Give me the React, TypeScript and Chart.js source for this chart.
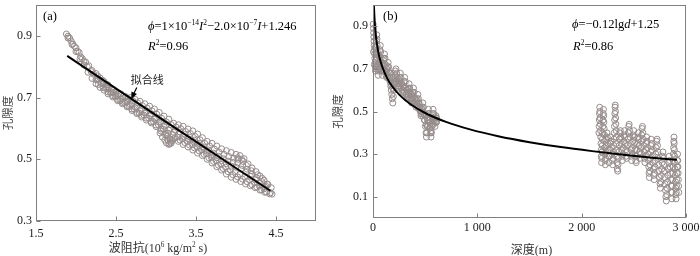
import React, { useEffect, useRef } from "react";
import { Chart, registerables } from "chart.js";
Chart.register(...registerables);

// ---------------- Panel (a): impedance vs porosity ----------------
const upperImp = [1.88, 1.92, 1.96, 2.0, 2.04, 2.08, 2.12, 2.16, 2.2, 2.25, 2.3, 2.35, 2.4, 2.45, 2.5, 2.56, 2.62, 2.68, 2.74, 2.8, 2.86, 2.92, 2.98, 3.04, 3.1, 3.16, 3.22, 3.28, 3.34, 3.4, 3.46, 3.52, 3.58, 3.64, 3.7, 3.76, 3.82, 3.88, 3.94, 4.0, 4.05, 4.1, 4.15, 4.2, 4.25, 4.3, 4.35, 4.4, 4.44];
const upperPor = [0.906, 0.893, 0.874, 0.861, 0.846, 0.826, 0.815, 0.803, 0.788, 0.778, 0.764, 0.752, 0.741, 0.728, 0.717, 0.712, 0.703, 0.7, 0.694, 0.688, 0.68, 0.672, 0.663, 0.652, 0.64, 0.63, 0.617, 0.612, 0.607, 0.598, 0.592, 0.582, 0.57, 0.558, 0.552, 0.543, 0.534, 0.528, 0.522, 0.516, 0.512, 0.502, 0.485, 0.472, 0.46, 0.446, 0.432, 0.418, 0.408];
const band1Imp = [1.9, 1.94, 1.98, 2.02, 2.06, 2.1, 2.14, 2.19, 2.27, 2.33, 2.39, 2.47, 2.53, 2.59, 2.65, 2.71, 2.77, 2.83, 2.89, 2.95, 3.01, 3.07, 3.13, 3.19, 3.25, 3.31, 3.37, 3.43, 3.49, 3.55, 3.61, 3.67, 3.73, 3.79, 3.85, 3.91, 3.97, 4.03, 4.09, 4.13, 4.19, 4.27, 4.33, 4.39];
const band1Por = [0.899, 0.883, 0.866, 0.85, 0.832, 0.818, 0.8, 0.784, 0.77, 0.756, 0.742, 0.725, 0.712, 0.704, 0.697, 0.69, 0.683, 0.674, 0.666, 0.657, 0.646, 0.633, 0.621, 0.612, 0.605, 0.599, 0.59, 0.583, 0.574, 0.563, 0.551, 0.543, 0.533, 0.523, 0.516, 0.509, 0.504, 0.5, 0.493, 0.48, 0.463, 0.45, 0.438, 0.42];
const mid1Imp = [2.22, 2.28, 2.34, 2.4, 2.46, 2.52, 2.58, 2.64, 2.7, 2.76, 2.82, 2.88, 2.94, 3.0, 3.06, 3.12, 3.18, 3.24, 3.3, 3.36, 3.42, 3.48, 3.54, 3.6, 3.66, 3.72, 3.78, 3.84, 3.9, 3.96, 4.02, 4.08, 4.14, 4.2, 4.26, 4.32, 4.38];
const mid1Por = [0.776, 0.76, 0.745, 0.73, 0.716, 0.705, 0.697, 0.688, 0.68, 0.671, 0.662, 0.655, 0.646, 0.635, 0.622, 0.61, 0.6, 0.594, 0.588, 0.58, 0.572, 0.562, 0.552, 0.54, 0.53, 0.52, 0.51, 0.502, 0.494, 0.49, 0.488, 0.48, 0.468, 0.452, 0.44, 0.428, 0.412];
const band2Imp = [2.26, 2.32, 2.38, 2.44, 2.5, 2.56, 2.62, 2.68, 2.74, 2.8, 2.86, 2.92, 2.98, 3.04, 3.1, 3.16, 3.22, 3.28, 3.34, 3.4, 3.46, 3.52, 3.58, 3.64, 3.7, 3.76, 3.82, 3.88, 3.94, 4.0, 4.06, 4.12, 4.18, 4.24, 4.3, 4.36];
const band2Por = [0.76, 0.748, 0.733, 0.719, 0.707, 0.695, 0.687, 0.677, 0.668, 0.658, 0.65, 0.641, 0.63, 0.62, 0.607, 0.594, 0.588, 0.581, 0.574, 0.567, 0.558, 0.549, 0.538, 0.527, 0.515, 0.505, 0.495, 0.486, 0.478, 0.474, 0.468, 0.458, 0.445, 0.434, 0.423, 0.41];
const mid2Imp = [2.25, 2.31, 2.37, 2.43, 2.49, 2.55, 2.61, 2.67, 2.73, 2.79, 2.85, 2.91, 2.97, 3.03, 3.09, 3.15, 3.21, 3.27, 3.33, 3.39, 3.45, 3.51, 3.57, 3.63, 3.69, 3.75, 3.81, 3.87, 3.93, 3.99, 4.05, 4.11, 4.17, 4.23, 4.29, 4.35];
const mid2Por = [0.758, 0.745, 0.73, 0.716, 0.703, 0.69, 0.682, 0.671, 0.662, 0.65, 0.643, 0.633, 0.622, 0.612, 0.598, 0.584, 0.58, 0.572, 0.566, 0.558, 0.548, 0.54, 0.53, 0.518, 0.507, 0.496, 0.484, 0.474, 0.466, 0.46, 0.452, 0.444, 0.434, 0.424, 0.414, 0.404];
const band3Imp = [2.28, 2.34, 2.4, 2.46, 2.52, 2.58, 2.64, 2.7, 2.76, 2.82, 2.88, 2.94, 3.0, 3.06, 3.12, 3.18, 3.24, 3.3, 3.36, 3.42, 3.48, 3.54, 3.6, 3.66, 3.72, 3.78, 3.84, 3.9, 3.96, 4.02, 4.08, 4.14, 4.2, 4.26, 4.32, 4.38, 4.43];
const band3Por = [0.742, 0.732, 0.718, 0.706, 0.694, 0.684, 0.674, 0.663, 0.652, 0.642, 0.633, 0.622, 0.611, 0.598, 0.584, 0.566, 0.57, 0.562, 0.554, 0.546, 0.537, 0.527, 0.516, 0.505, 0.493, 0.481, 0.47, 0.46, 0.45, 0.443, 0.436, 0.427, 0.418, 0.41, 0.401, 0.394, 0.392];
const lowerImp = [1.9, 1.95, 2.0, 2.05, 2.1, 2.15, 2.2, 2.25, 2.3, 2.35, 2.4, 2.46, 2.52, 2.58, 2.64, 2.7, 2.76, 2.82, 2.88, 2.94, 3.0, 3.06, 3.12, 3.15, 3.18, 3.22, 3.28, 3.34, 3.4, 3.46, 3.52, 3.58, 3.64, 3.7, 3.76, 3.82, 3.88, 3.94, 4.0, 4.06, 4.12, 4.18, 4.24, 4.3, 4.36, 4.42, 4.45];
const lowerPor = [0.893, 0.872, 0.849, 0.826, 0.805, 0.782, 0.762, 0.745, 0.733, 0.724, 0.712, 0.702, 0.69, 0.68, 0.67, 0.658, 0.648, 0.637, 0.627, 0.618, 0.606, 0.592, 0.578, 0.562, 0.556, 0.566, 0.558, 0.548, 0.54, 0.53, 0.52, 0.512, 0.5, 0.488, 0.476, 0.465, 0.452, 0.442, 0.435, 0.428, 0.42, 0.414, 0.408, 0.4, 0.393, 0.388, 0.387];
const extraImp = [3.05, 3.08, 3.11, 3.13, 3.16, 3.19, 3.14, 3.17, 3.2, 4.02, 4.07];
const extraPor = [0.585, 0.572, 0.562, 0.553, 0.548, 0.552, 0.575, 0.55, 0.56, 0.505, 0.5];
const fitImpA = [1.89, 3.12, 4.43];
const fitPorA = [0.835, 0.622, 0.398];
const xTicksA = [1.5, 2.5, 3.5, 4.5];
const xTickLabelsA = ["1.5", "2.5", "3.5", "4.5"];
const yTicksA = [0.3, 0.5, 0.7, 0.9];
const yTickLabelsA = ["0.3", "0.5", "0.7", "0.9"];

// ---------------- Panel (b): depth vs porosity ----------------
const depthShallow = [2, 4, 6, 8, 10, 12, 14, 16, 18, 20, 22, 24, 26, 28, 30, 32, 34, 36, 38, 40, 42, 44, 46, 48, 50,
  54, 58, 62, 66, 70, 74, 78, 82, 86, 90,
  95, 100, 105, 110, 115, 120, 125, 130, 135, 140, 145, 150, 155, 160, 165, 170, 175, 180, 185, 190, 195, 200, 205, 210, 215, 220,
  226, 232, 238, 244, 250, 256, 262, 268, 274, 280, 286, 292, 298, 304, 310, 316, 322, 328, 334, 340, 346, 352, 358, 364, 370, 376, 382, 388, 394, 400, 406, 412, 418, 424, 430, 436, 442, 448, 454, 460, 466, 472, 478, 484, 490, 496, 502,
  508, 512, 516, 520, 524, 528, 532, 538, 544, 548, 552, 556, 560, 564, 568, 572, 576, 582, 588, 594, 600, 604, 608, 610];
const porShallow = [0.91, 0.89, 0.87, 0.85, 0.83, 0.81, 0.79, 0.77, 0.75, 0.73, 0.71, 0.69, 0.71, 0.74, 0.77, 0.8, 0.83, 0.86, 0.84, 0.81, 0.78, 0.75, 0.72, 0.69, 0.67,
  0.7, 0.73, 0.76, 0.79, 0.81, 0.78, 0.75, 0.72, 0.69, 0.67,
  0.69, 0.72, 0.75, 0.77, 0.75, 0.72, 0.69, 0.66, 0.68, 0.71, 0.73, 0.71, 0.68, 0.66, 0.64, 0.62, 0.6, 0.58, 0.56, 0.54, 0.57, 0.6, 0.63, 0.66, 0.69, 0.7,
  0.68, 0.66, 0.63, 0.61, 0.63, 0.66, 0.68, 0.66, 0.63, 0.6, 0.59, 0.61, 0.64, 0.66, 0.64, 0.61, 0.58, 0.56, 0.58, 0.61, 0.63, 0.61, 0.58, 0.56, 0.54, 0.56, 0.59, 0.61, 0.59, 0.56, 0.54, 0.52, 0.54, 0.56, 0.58, 0.56, 0.54, 0.52, 0.5, 0.48, 0.5, 0.52, 0.54, 0.52, 0.49, 0.46, 0.43,
  0.4, 0.38, 0.4, 0.43, 0.46, 0.49, 0.51, 0.49, 0.46, 0.43, 0.4, 0.38, 0.4, 0.43, 0.46, 0.49, 0.51, 0.49, 0.46, 0.43, 0.45, 0.48, 0.47, 0.45];
const depthShallow2 = [5, 13, 21, 29, 37, 45, 53, 61, 69, 77, 85, 93, 101, 109, 117, 125, 133, 141, 149, 157,
  165, 173, 181, 189, 197, 205, 213, 221, 229, 237, 245, 253, 261, 269, 277, 285, 293, 301, 309, 317,
  325, 333, 341, 349, 357, 365, 373, 381, 389, 397, 405, 413, 421, 429, 437, 445, 453, 461, 469, 477,
  485, 493, 501, 509, 517, 525, 533, 541, 549, 557, 565, 573, 581, 589, 597, 605];
const porShallow2 = [0.78, 0.72, 0.8, 0.7, 0.77, 0.71, 0.76, 0.7, 0.74, 0.69, 0.73, 0.7, 0.74, 0.69, 0.72, 0.67, 0.7, 0.66, 0.69, 0.65,
  0.68, 0.63, 0.66, 0.61, 0.65, 0.64, 0.67, 0.64, 0.65, 0.62, 0.65, 0.62, 0.64, 0.61, 0.63, 0.6, 0.62, 0.59, 0.61, 0.58,
  0.6, 0.57, 0.59, 0.56, 0.59, 0.56, 0.58, 0.55, 0.57, 0.54, 0.56, 0.53, 0.55, 0.52, 0.54, 0.51, 0.52, 0.49, 0.51, 0.48,
  0.49, 0.46, 0.48, 0.44, 0.47, 0.43, 0.46, 0.42, 0.45, 0.41, 0.44, 0.47, 0.44, 0.47, 0.45, 0.47];
const depthDeep = [
  2165, 2167, 2169, 2171, 2173, 2175, 2177, 2179, 2181, 2183,
  2185, 2187, 2189, 2191, 2193, 2195, 2197, 2199, 2201, 2203,
  2205, 2207, 2209, 2211, 2213, 2215, 2217, 2219, 2221, 2223,
  2225, 2227, 2230, 2233, 2236, 2239, 2242, 2246, 2250, 2254,
  2258, 2262, 2266, 2270, 2274, 2278, 2282, 2286, 2290, 2294,
  2298, 2302, 2305, 2308, 2310, 2312, 2314, 2316, 2318, 2320,
  2322, 2324, 2326, 2328, 2330, 2332, 2334, 2336, 2338, 2340,
  2342, 2345, 2348, 2351, 2355, 2359, 2363, 2367, 2371, 2375,
  2379, 2383, 2387, 2391, 2395, 2399, 2403, 2407, 2411, 2415,
  2419, 2423, 2427, 2431, 2435, 2439, 2443, 2447, 2451, 2455,
  2459, 2463, 2467, 2471, 2475, 2479, 2483, 2487, 2491, 2495,
  2499, 2503, 2507, 2511, 2515, 2519, 2523, 2527, 2531, 2535,
  2539, 2543, 2547, 2551, 2555, 2559, 2563, 2567, 2571, 2575,
  2579, 2583, 2587, 2591, 2595, 2599, 2603, 2607, 2611, 2615,
  2619, 2623, 2627, 2631, 2635, 2639, 2643, 2646, 2649, 2652,
  2655, 2658, 2661, 2664, 2667, 2671, 2675, 2679, 2683, 2687,
  2691, 2695, 2699, 2703, 2707, 2711, 2715, 2719, 2723, 2727,
  2731, 2735, 2739, 2743, 2747, 2751, 2755, 2759, 2763, 2767,
  2771, 2775, 2779, 2783, 2787, 2791, 2795, 2799, 2803, 2807,
  2811, 2815, 2819, 2823, 2827, 2831, 2835, 2839, 2843, 2847,
  2851, 2855, 2859, 2862, 2865, 2867, 2869, 2871, 2873, 2875,
  2877, 2879, 2881, 2883, 2885, 2887, 2889, 2891, 2893, 2895,
  2897, 2899, 2901, 2903, 2905, 2907, 2909, 2911, 2913, 2915,
  2917, 2919, 2921, 2923, 2925, 2927, 2929, 2931];
const porDeep = [
  0.4, 0.43, 0.46, 0.49, 0.52, 0.5, 0.47, 0.44, 0.41, 0.38,
  0.35, 0.32, 0.29, 0.26, 0.28, 0.31, 0.34, 0.37, 0.4, 0.43,
  0.46, 0.49, 0.51, 0.48, 0.45, 0.42, 0.39, 0.36, 0.33, 0.3,
  0.27, 0.25, 0.28, 0.31, 0.34, 0.37, 0.4, 0.38, 0.35, 0.32,
  0.29, 0.26, 0.29, 0.32, 0.35, 0.38, 0.36, 0.33, 0.3, 0.27,
  0.25, 0.28, 0.31, 0.34, 0.37, 0.4, 0.43, 0.46, 0.49, 0.52,
  0.53, 0.5, 0.47, 0.44, 0.41, 0.38, 0.35, 0.32, 0.29, 0.26,
  0.23, 0.22, 0.25, 0.28, 0.31, 0.34, 0.37, 0.4, 0.41, 0.38,
  0.35, 0.32, 0.29, 0.27, 0.3, 0.33, 0.36, 0.39, 0.41, 0.38,
  0.35, 0.32, 0.29, 0.28, 0.31, 0.34, 0.37, 0.4, 0.43, 0.44,
  0.41, 0.38, 0.35, 0.32, 0.29, 0.27, 0.3, 0.33, 0.36, 0.39,
  0.41, 0.38, 0.35, 0.32, 0.29, 0.27, 0.26, 0.29, 0.32, 0.35,
  0.38, 0.4, 0.37, 0.34, 0.31, 0.28, 0.3, 0.33, 0.36, 0.39,
  0.42, 0.43, 0.4, 0.37, 0.34, 0.31, 0.28, 0.26, 0.29, 0.32,
  0.35, 0.38, 0.36, 0.33, 0.3, 0.27, 0.24, 0.21, 0.19, 0.22,
  0.25, 0.28, 0.31, 0.34, 0.37, 0.35, 0.32, 0.29, 0.26, 0.23,
  0.2, 0.18, 0.21, 0.24, 0.27, 0.3, 0.33, 0.36, 0.37, 0.34,
  0.31, 0.28, 0.25, 0.22, 0.19, 0.16, 0.14, 0.17, 0.2, 0.23,
  0.26, 0.29, 0.31, 0.28, 0.25, 0.22, 0.19, 0.16, 0.13, 0.1,
  0.08, 0.11, 0.14, 0.17, 0.2, 0.23, 0.26, 0.29, 0.27, 0.24,
  0.21, 0.18, 0.15, 0.12, 0.09, 0.12, 0.15, 0.18, 0.21, 0.24,
  0.27, 0.3, 0.33, 0.36, 0.38, 0.35, 0.32, 0.29, 0.26, 0.23,
  0.2, 0.17, 0.14, 0.11, 0.09, 0.12, 0.15, 0.18, 0.21, 0.24,
  0.27, 0.3, 0.27, 0.24, 0.21, 0.18, 0.15, 0.12];
const fitDepthB = [8, 12, 16, 24, 32, 48, 64, 90, 128, 180, 256, 360, 500, 700, 929, 1200, 1500, 1800, 2100, 2400, 2700, 2913];
const fitPorB = [1.01, 0.96, 0.923, 0.872, 0.837, 0.786, 0.75, 0.708, 0.664, 0.621, 0.577, 0.534, 0.493, 0.451, 0.416, 0.384, 0.356, 0.333, 0.314, 0.297, 0.282, 0.273];
const xTicksB = [0, 1000, 2000, 3000];
const xTickLabelsB = ["0", "1 000", "2 000", "3 000"];
const yTicksB = [0.1, 0.3, 0.5, 0.7, 0.9];
const yTickLabelsB = ["0.1", "0.3", "0.5", "0.7", "0.9"];

// ---------------- drawing helpers ----------------
const SERIF = '"Liberation Serif", "Times New Roman", serif';
const CJK = '"Noto Sans CJK SC", "Noto Sans CJK JP", sans-serif';
const AXIS_GRAY = "#808080";
const POINT_GRAY = "rgb(150,140,140)";
const TEXT = "#1a1a1a";

type Run = { t: string; it?: boolean; sup?: boolean; cjk?: boolean };

function runFont(r: Run, size: number) {
  const s = r.sup ? size * 0.6 : size;
  return `${r.it ? "italic " : ""}${s}px ${r.cjk ? CJK : SERIF}`;
}
function drawRich(ctx: CanvasRenderingContext2D, runs: Run[], x: number, y: number, size: number, align: "left" | "center") {
  let w = 0;
  for (const r of runs) { ctx.font = runFont(r, size); w += ctx.measureText(r.t).width; }
  let cx = align === "center" ? x - w / 2 : x;
  ctx.textAlign = "left";
  ctx.textBaseline = "alphabetic";
  for (const r of runs) {
    ctx.font = runFont(r, size);
    ctx.fillText(r.t, cx, r.sup ? y - size * 0.42 : y);
    cx += ctx.measureText(r.t).width;
  }
}

type Spec = {
  canvasLeft: number; width: number;
  pad: { left: number; top: number; right: number; bottom: number };
  xMin: number; xMax: number; yMin: number; yMax: number;
  xTicks: number[]; xTickLabels: string[]; yTicks: number[]; yTickLabels: string[];
  xLabelOffset: number; yLabelGap: number;
  xTitle: Run[]; xTitleShift: number; xTitleY: number;
  yTitleX: number;
  texts: { runs: Run[]; x: number; y: number }[];
  arrow?: { text: string; tx: number; ty: number; fx: number; fy: number; px: number; py: number };
  points: { x: number; y: number }[];
  fit: { x: number; y: number }[];
};

function decor(spec: Spec) {
  return {
    id: "decor",
    afterDraw(chart: any) {
      const ctx: CanvasRenderingContext2D = chart.ctx;
      const a = chart.chartArea;
      const xs = chart.scales.x, ys = chart.scales.y;
      ctx.save();
      ctx.strokeStyle = AXIS_GRAY;
      ctx.lineWidth = 1;
      const L = Math.round(a.left) + 0.5, R = Math.round(a.right) - 0.5;
      const T = Math.round(a.top) + 0.5, B = Math.round(a.bottom) - 0.5;
      ctx.strokeRect(L, T, R - L, B - T);
      ctx.beginPath();
      spec.xTicks.forEach((v) => {
        const px = Math.round(xs.getPixelForValue(v)) + 0.5;
        ctx.moveTo(px, B); ctx.lineTo(px, B - 4);
      });
      spec.yTicks.forEach((v) => {
        const py = Math.round(ys.getPixelForValue(v)) + 0.5;
        ctx.moveTo(L, py); ctx.lineTo(L + 4, py);
      });
      ctx.stroke();
      ctx.fillStyle = TEXT;
      ctx.font = `12px ${SERIF}`;
      ctx.textBaseline = "middle";
      ctx.textAlign = "center";
      spec.xTicks.forEach((v, i) => {
        ctx.fillText(spec.xTickLabels[i], xs.getPixelForValue(v), a.bottom + spec.xLabelOffset);
      });
      ctx.textAlign = "right";
      spec.yTicks.forEach((v, i) => {
        ctx.fillText(spec.yTickLabels[i], a.left - spec.yLabelGap, ys.getPixelForValue(v));
      });
      ctx.fillStyle = "#333";
      drawRich(ctx, spec.xTitle, (a.left + a.right) / 2 + spec.xTitleShift, spec.xTitleY, 12, "center");
      ctx.save();
      ctx.translate(spec.yTitleX, (a.top + a.bottom) / 2);
      ctx.rotate(-Math.PI / 2);
      ctx.font = `11.5px ${CJK}`;
      ctx.textAlign = "center";
      ctx.textBaseline = "middle";
      ctx.fillStyle = "#444";
      ctx.fillText("孔隙度", 0, 0);
      ctx.restore();
      ctx.fillStyle = "#000";
      spec.texts.forEach((t) => drawRich(ctx, t.runs, a.left + t.x, a.top + t.y, 12.5, "left"));
      if (spec.arrow) {
        const ar = spec.arrow;
        ctx.font = `11px ${CJK}`;
        ctx.textAlign = "center";
        ctx.textBaseline = "middle";
        ctx.fillStyle = "#222";
        ctx.fillText(ar.text, xs.getPixelForValue(ar.tx), ys.getPixelForValue(ar.ty));
        const x0 = xs.getPixelForValue(ar.fx), y0 = ys.getPixelForValue(ar.fy);
        const x1 = xs.getPixelForValue(ar.px), y1 = ys.getPixelForValue(ar.py);
        const ang = Math.atan2(y1 - y0, x1 - x0);
        ctx.strokeStyle = "#000";
        ctx.lineWidth = 1.2;
        ctx.beginPath();
        ctx.moveTo(x0, y0);
        ctx.lineTo(x1 - 5 * Math.cos(ang), y1 - 5 * Math.sin(ang));
        ctx.stroke();
        ctx.fillStyle = "#000";
        ctx.beginPath();
        ctx.moveTo(x1, y1);
        ctx.lineTo(x1 - 7 * Math.cos(ang) + 3 * Math.sin(ang), y1 - 7 * Math.sin(ang) - 3 * Math.cos(ang));
        ctx.lineTo(x1 - 7 * Math.cos(ang) - 3 * Math.sin(ang), y1 - 7 * Math.sin(ang) + 3 * Math.cos(ang));
        ctx.closePath();
        ctx.fill();
      }
      ctx.restore();
    },
  };
}

function zip(xs: number[], ys: number[]) {
  const n = Math.min(xs.length, ys.length);
  const out: { x: number; y: number }[] = [];
  for (let i = 0; i < n; i++) out.push({ x: xs[i], y: ys[i] });
  return out;
}

function Panel({ spec }: { spec: Spec }) {
  const ref = useRef<HTMLCanvasElement>(null);
  useEffect(() => {
    const chart = new Chart(ref.current as HTMLCanvasElement, {
      type: "scatter",
      data: {
        datasets: [
          {
            type: "line",
            data: spec.fit,
            borderColor: "#000",
            borderWidth: 2,
            pointRadius: 0,
            cubicInterpolationMode: "monotone",
            fill: false,
            order: 0,
          } as any,
          {
            type: "scatter",
            data: spec.points,
            pointRadius: 3,
            pointBorderWidth: 1,
            pointBorderColor: POINT_GRAY,
            pointBackgroundColor: "rgba(255,255,255,0)",
            showLine: false,
            clip: 4,
            order: 1,
          } as any,
        ],
      },
      options: {
        responsive: false,
        maintainAspectRatio: false,
        animation: false,
        events: [],
        layout: { padding: spec.pad },
        plugins: { legend: { display: false }, tooltip: { enabled: false } },
        scales: {
          x: { type: "linear", display: false, min: spec.xMin, max: spec.xMax },
          y: { type: "linear", display: false, min: spec.yMin, max: spec.yMax },
        },
      },
      plugins: [decor(spec)],
    });
    return () => chart.destroy();
  }, [spec]);
  return (
    <canvas
      ref={ref}
      width={spec.width}
      height={256}
      style={{ position: "absolute", left: spec.canvasLeft, top: 0, width: spec.width, height: 256 }}
    />
  );
}

const pointsA = [
  ...zip(upperImp, upperPor),
  ...zip(band1Imp, band1Por),
  ...zip(mid1Imp, mid1Por),
  ...zip(band2Imp, band2Por),
  ...zip(mid2Imp, mid2Por),
  ...zip(band3Imp, band3Por),
  ...zip(lowerImp, lowerPor),
  ...zip(extraImp, extraPor),
];
const pointsB = [
  ...zip(depthShallow, porShallow),
  ...zip(depthShallow2, porShallow2),
  ...zip(depthDeep, porDeep),
];

const specA: Spec = {
  canvasLeft: 0, width: 330,
  pad: { left: 36, top: 5, right: 14, bottom: 35 },
  xMin: 1.5, xMax: 5.0, yMin: 0.3, yMax: 1.0,
  xTicks: xTicksA, xTickLabels: xTickLabelsA, yTicks: yTicksA, yTickLabels: yTickLabelsA,
  xLabelOffset: 12.5, yLabelGap: 4,
  xTitle: [{ t: "波阻抗", cjk: true }, { t: "(10" }, { t: "6", sup: true }, { t: " kg/m" }, { t: "2", sup: true }, { t: " s)" }],
  xTitleShift: -18, xTitleY: 252,
  yTitleX: 8,
  texts: [
    { runs: [{ t: "(a)" }], x: 7, y: 15 },
    { runs: [{ t: "ϕ", it: true }, { t: "=1×10" }, { t: "−14", sup: true }, { t: "I", it: true }, { t: "2", sup: true }, { t: "−2.0×10" }, { t: "−7", sup: true }, { t: "I", it: true }, { t: "+1.246" }], x: 112, y: 25 },
    { runs: [{ t: "R", it: true }, { t: "2", sup: true }, { t: "=0.96" }], x: 112, y: 45 },
  ],
  arrow: { text: "拟合线", tx: 2.89, ty: 0.757, fx: 2.76, fy: 0.733, px: 2.69, py: 0.695 },
  points: pointsA,
  fit: zip(fitImpA, fitPorA),
};

const specB: Spec = {
  canvasLeft: 325, width: 375,
  pad: { left: 48, top: 5, right: 14, bottom: 38 },
  xMin: 0, xMax: 3000, yMin: 0, yMax: 1.0,
  xTicks: xTicksB, xTickLabels: xTickLabelsB, yTicks: yTicksB, yTickLabels: yTickLabelsB,
  xLabelOffset: 9.5, yLabelGap: 5,
  xTitle: [{ t: "深度", cjk: true }, { t: "(m)" }],
  xTitleShift: 2, xTitleY: 254,
  yTitleX: 13,
  texts: [
    { runs: [{ t: "(b)" }], x: 10, y: 15 },
    { runs: [{ t: "ϕ", it: true }, { t: "=−0.12lg" }, { t: "d", it: true }, { t: "+1.25" }], x: 199, y: 23 },
    { runs: [{ t: "R", it: true }, { t: "2", sup: true }, { t: "=0.86" }], x: 200, y: 45 },
  ],
  points: pointsB,
  fit: zip(fitDepthB, fitPorB),
};

export default function App() {
  return (
    <div style={{ position: "fixed", left: 0, top: 0, width: 700, height: 256, background: "#fff", overflow: "hidden" }}>
      <Panel spec={specA} />
      <Panel spec={specB} />
    </div>
  );
}
